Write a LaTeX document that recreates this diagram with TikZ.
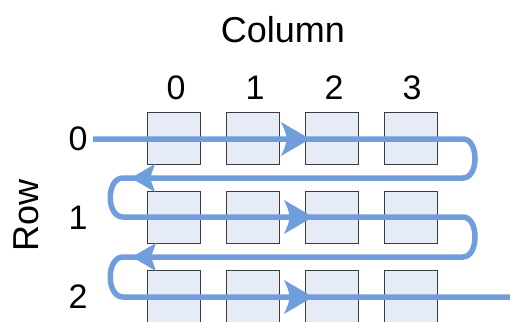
\documentclass[tikz,border=0pt]{standalone}
\usepackage{fontspec}
\setmainfont{Liberation Sans}
\definecolor{cellfill}{RGB}{229,236,247}
\definecolor{celledge}{RGB}{60,60,60}
\definecolor{scanblue}{RGB}{112,157,220}
\tikzset{
  cell/.style={draw=celledge, fill=cellfill, line width=1pt, inner sep=0pt,
               minimum width=53pt, minimum height=52pt},
  axislabel/.style={inner sep=0pt, font=\fontsize{36}{40}\selectfont},
  index/.style={inner sep=0pt, font=\fontsize{34}{40}\selectfont},
  scan/.style={draw=scanblue, line width=5.5pt},
  headfill/.style={fill=scanblue}
}
\begin{document}
\begin{tikzpicture}[x=1pt, y=-1pt]
\useasboundingbox (0,0) rectangle (510,321);

% header labels
\node[axislabel] (coltitle) at (283,30) {Column};
\node[axislabel, rotate=90] (rowtitle) at (26,215) {Row};
\foreach \c/\x in {0/176,1/255,2/334,3/412}
  \node[index] (col\c) at (\x,88) {\c};
\foreach \r/\y in {0/139,1/218,2/297}
  \node[index] (row\r) at (78,\y) {\r};

% grid of cells
\foreach \r/\y in {0/138,1/217,2/296}
  \foreach \c/\x in {0/173.5,1/252.5,2/331.5,3/410.5}
    \node[cell] (cell\r\c) at (\x,\y) {};

% turning points of the scan path
\coordinate (s0) at (93,139);
\coordinate (e0) at (463,139);
\coordinate (b0) at (463,178);
\coordinate (l0) at (123,178);
\coordinate (s1) at (123,217);
\coordinate (e1) at (463,217);
\coordinate (b1) at (463,257);
\coordinate (l1) at (123,257);
\coordinate (s2) at (123,297);
\coordinate (e2) at (510,297);

% row-major scan path
\draw[scan, line join=round]
  (s0) -- (e0) .. controls (479,139) and (479,178) .. (b0)
  -- (l0) .. controls (106,178) and (106,217) .. (s1)
  -- (e1) .. controls (479,217) and (479,257) .. (b1)
  -- (l1) .. controls (106,257) and (106,297) .. (s2)
  -- (e2);

% direction arrowheads (tips of the scan direction)
\coordinate (a0) at (310,139);
\coordinate (r0) at (131,178);
\coordinate (a1) at (313,217);
\coordinate (r1) at (132,257);
\coordinate (a2) at (313,297);
\foreach \t in {a0,a1,a2}
  \fill[headfill, shift={(\t)}] (0,0) -- (-29,-17)
    .. controls (-25,-8) .. (-23,0) .. controls (-25,8) .. (-29,17) -- cycle;
\foreach \t in {r0,r1}
  \fill[headfill, shift={(\t)}] (0,0) -- (24,-14)
    .. controls (21,-7) .. (19,0) .. controls (21,7) .. (24,14) -- cycle;
\end{tikzpicture}
\end{document}
